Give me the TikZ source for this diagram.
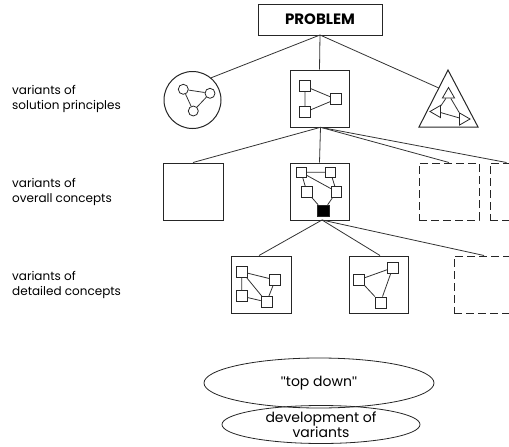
\documentclass[tikz,border=0pt]{standalone}
\usepackage{fontspec}
\setmainfont{Poppins}
\usetikzlibrary{calc,shapes.geometric}
\begin{document}
\begin{tikzpicture}[x=1pt,y=-1pt,
  every node/.style={font=\fontsize{12}{15}\selectfont, inner sep=0pt},
  frame/.style={draw=black!85, line width=1pt, minimum width=60pt, minimum height=57pt},
  ghost/.style={frame, dash pattern=on 8pt off 4pt},
  link/.style={draw=black!80, line width=0.8pt},
  cell/.style={draw=black!85, line width=0.8pt, minimum size=11pt},
  dot/.style={draw=black!85, line width=0.8pt, circle, minimum size=10pt},
  tri/.style={draw=black!85, line width=0.8pt, regular polygon, regular polygon sides=3, minimum size=14pt},
  label/.style={anchor=west, align=left},
  oval/.style={draw=black!85, line width=0.8pt, ellipse, align=center, font=\fontsize{14}{15}\selectfont}
]
\useasboundingbox (0,0) rectangle (509,447);
\clip (0,0) rectangle (509,447);

% top problem box
\node[draw=black!85, line width=1pt, minimum width=124pt, minimum height=31pt,
      font=\fontsize{15}{16}\selectfont\bfseries] (prob) at (320,19.5) {PROBLEM};
\coordinate (pb) at (320,35);

% row labels
\node[label] (l1) at (12,98.5) {variants of\\solution principles};
\node[label] (l2) at (12,191.5) {variants of\\overall concepts};
\node[label] (l3) at (12,284.5) {variants of\\detailed concepts};

% ---- solution principles ----
\node[draw=black!85, line width=1pt, circle, minimum size=57pt] (circ) at (192.5,100) {};
\node[dot] (c1) at (183.3,89.3) {};
\node[dot] (c2) at (210,93.3) {};
\node[dot] (c3) at (193.3,111) {};
\draw[link] (c1) -- (c2) (c1) -- (c3) (c2) -- (c3);

\node[frame, minimum width=59pt] (sp) at (319.5,98.5) {};
\node[cell] (s1) at (305,86.2) {};
\node[cell] (s2) at (336,99.2) {};
\node[cell] (s3) at (305,112.2) {};
\draw[link] (s1) -- (s3) (s1) -- (s2) (s3) -- (s2);

\coordinate (ta) at (448,70);
\coordinate (tr) at (478,127);
\coordinate (tl) at (419,127);
\draw[draw=black!85, line width=1pt, line join=miter] (ta) -- (tr) -- (tl) -- cycle;
\coordinate (tedge) at ($(ta)!0.316!(tl)$);
\node[tri] (t1) at (448.5,94.5) {};
\node[tri, rotate=90] (t2) at (437,111.5) {};
\node[tri, rotate=-90] (t3) at (463,119) {};
\draw[link] (t1) -- (t2) (t1) -- (t3) (t2) -- (t3);

\draw[link] (pb) -- (circ.50);
\draw[link] (pb) -- (sp.north);
\draw[link] (pb) -- (tedge);

% ---- overall concepts ----
\node[frame] (o1) at (193,191.5) {};
\node[frame, minimum width=59pt] (o2) at (319.5,191.5) {};
\node[ghost] (o3) at (449,191.5) {};
\node[ghost] (o4) at (520,191.5) {};

\node[cell, minimum size=10.5pt] (a) at (301.2,172.3) {};
\node[cell, minimum size=10.5pt] (b) at (330.5,172.3) {};
\node[cell, minimum size=10.5pt] (c) at (306.8,191.7) {};
\node[cell, minimum size=10.5pt] (d) at (336.5,191.7) {};
\node[cell, fill=black, minimum size=11.5pt] (e) at (323.5,211) {};
\draw[link] (a) -- (b) (a) -- (c) (a) -- (d) (b) -- (d) (c) -- (e) (d) -- (e);

\coordinate (spb) at (320.5,127.3);
\draw[link] (spb) -- (o1.north);
\draw[link] (spb) -- (o2.north);
\draw[link] (spb) -- (o3.north);
\draw[link] (spb) -- ([xshift=17pt]o4.north west);

% ---- detailed concepts ----
\node[frame] (d1) at (261,284.5) {};
\node[frame, minimum width=59pt] (d2) at (378.5,284.5) {};
\node[ghost] (d3) at (484,284.5) {};

\node[cell] (p) at (241.8,271.7) {};
\node[cell] (q) at (275.2,280) {};
\node[cell] (r) at (241.8,296.2) {};
\node[cell] (s) at (266.6,302) {};
\draw[link] (p) -- (r) (p) -- (q) (p) -- (s) (r) -- (s) (q) -- (s);

\node[cell] (u) at (359.2,279.7) {};
\node[cell] (v) at (392.8,267.7) {};
\node[cell] (w) at (380.4,302.5) {};
\draw[link] (u) -- (v) (u) -- (w) (v) -- (w);

\coordinate (ob) at (322,220);
\draw[link] (ob) -- ([xshift=-2pt]d1.north);
\draw[link] (ob) -- ([xshift=1.5pt]d2.north);
\draw[link] (ob) -- (d3.north);

% ---- bottom ovals ----
\node[oval, minimum width=230pt, minimum height=50pt] (td) at (319,383) {{\fontspec{Liberation Sans}"}top down{\fontspec{Liberation Sans}"}};
\node[oval, minimum width=198pt, minimum height=38pt] (dv) at (321,424.5) {development of\\variants};
\end{tikzpicture}
\end{document}
